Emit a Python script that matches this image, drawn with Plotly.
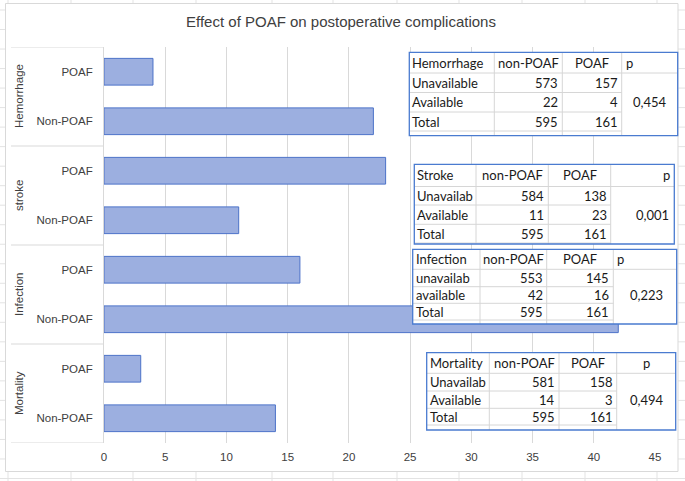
import plotly.graph_objects as go

# ---------------- data ----------------
groups = ["Hemorrhage", "stroke", "Infection", "Mortality"]
bar_labels = ["POAF", "Non-POAF"]
poaf_counts = [4, 23, 16, 3]
non_poaf_counts = [22, 11, 42, 14]
x_ticks = [0, 5, 10, 15, 20, 25, 30, 35, 40, 45]

table_titles = ["Hemorrhage", "Stroke", "Infection", "Mortality"]
col_headers = ["non-POAF", "POAF", "p"]
hem_rows = ["Unavailable", "Available", "Total"]
hem_non = [573, 22, 595]
hem_poaf = [157, 4, 161]
hem_p = "0,454"
stroke_rows = ["Unavailab", "Available", "Total"]
stroke_non = [584, 11, 595]
stroke_poaf = [138, 23, 161]
stroke_p = "0,001"
inf_rows = ["unavailab", "available", "Total"]
inf_non = [553, 42, 595]
inf_poaf = [145, 16, 161]
inf_p = "0,223"
mort_rows = ["Unavailab", "Available", "Total"]
mort_non = [581, 14, 595]
mort_poaf = [158, 3, 161]
mort_p = "0,494"

# ---------------- layout constants (pixels) ----------------
W, H = 685, 481
L, R, T, B = 104, 30, 47, 38
PW, PH = W - L - R, H - T - B


def fx(px):
    return (px - L) / PW


def fy(py):
    return (H - B - py) / PH


AX_FONT = dict(family="Liberation Sans, Arial, sans-serif", size=11.5, color="#404040")
TB_FONT = dict(family="Lato, Open Sans, sans-serif", size=13, color="#1a1a1a")
GRID = "#d9d9d9"
SHEET = "#e3e3e3"
BLUE = "#4a7bd0"

# ---------------- bars ----------------
ypos, xval, ytxt = [], [], []
for g in range(len(groups)):
    for j, lab in enumerate(bar_labels):
        ypos.append(2 * g + j)
        xval.append(poaf_counts[g] if j == 0 else non_poaf_counts[g])
        ytxt.append(lab)

fig = go.Figure()
fig.add_trace(go.Bar(
    x=xval, y=ypos, orientation="h",
    marker=dict(color="#9cafe0", line=dict(color="#4c72c8", width=1)),
    hoverinfo="skip",
))

shapes = []
annotations = []

# spreadsheet grid behind the chart
sheet_cols = [8, 71, 133, 196, 272, 333, 397, 459, 522, 585, 657]
for cx in sheet_cols:
    shapes.append(dict(type="line", xref="paper", yref="paper", layer="below",
                       x0=fx(cx), x1=fx(cx), y0=fy(0), y1=fy(H),
                       line=dict(color=SHEET, width=1)))
k = 0
while 10 + 19.52 * k < H:
    ry = 10 + 19.52 * k
    shapes.append(dict(type="line", xref="paper", yref="paper", layer="below",
                       x0=fx(0), x1=fx(W), y0=fy(ry), y1=fy(ry),
                       line=dict(color=SHEET, width=1)))
    k += 1

# chart area
shapes.append(dict(type="rect", xref="paper", yref="paper", layer="below",
                   x0=fx(5.5), x1=fx(678), y0=fy(471.5), y1=fy(3.5),
                   fillcolor="white", line=dict(color=GRID, width=1)))

# category group dividers
for b in range(len(groups) + 1):
    yb = 2 * b - 0.5
    shapes.append(dict(type="line", xref="paper", yref="y", layer="below",
                       x0=fx(11), x1=0, y0=yb, y1=yb,
                       line=dict(color=GRID, width=1)))

# group labels
for g, name in enumerate(groups):
    annotations.append(dict(text=name, xref="paper", yref="y", x=fx(18.5), y=2 * g + 0.5,
                            textangle=-90, showarrow=False, font=AX_FONT,
                            xanchor="center", yanchor="middle"))

# ---------------- tables ----------------
tables = [
    dict(title=table_titles[0], rows=hem_rows, non=hem_non, poaf=hem_poaf, p=hem_p,
         box=(409.3, 52.3, 677.7, 135.7), cols=(494.3, 562.3, 621.7),
         rb=(52.3, 73, 92.5, 112, 131), p_align="left", p_x=668),
    dict(title=table_titles[1], rows=stroke_rows, non=stroke_non, poaf=stroke_poaf, p=stroke_p,
         box=(414.3, 164.3, 674.3, 244), cols=(476, 548.3, 610.7),
         rb=(164.3, 186.5, 205, 224.3, 243), p_align="right", p_x=670),
    dict(title=table_titles[2], rows=inf_rows, non=inf_non, poaf=inf_poaf, p=inf_p,
         box=(412.7, 249.3, 676.7, 324), cols=(480, 546.7, 613.3),
         rb=(249.3, 269.3, 286.7, 303.3, 320), p_align="left", p_x=663.5),
    dict(title=table_titles[3], rows=mort_rows, non=mort_non, poaf=mort_poaf, p=mort_p,
         box=(426.7, 352.7, 675.7, 430), cols=(489.3, 559, 616.7),
         rb=(352.7, 373.3, 391, 408.3, 425), p_align="center", p_x=664.5),
]

CELL = "#d6d6d6"
for t in tables:
    x0, y0, x1, y1 = t["box"]
    c = t["cols"]
    rb = t["rb"]
    shapes.append(dict(type="rect", xref="paper", yref="paper", layer="above",
                       x0=fx(x0), x1=fx(x1), y0=fy(y1), y1=fy(y0),
                       fillcolor="white", line=dict(width=0)))
    for cx in c:
        shapes.append(dict(type="line", xref="paper", yref="paper", layer="above",
                           x0=fx(cx), x1=fx(cx), y0=fy(y1), y1=fy(y0),
                           line=dict(color=CELL, width=1)))
    for i, ry in enumerate(rb[1:]):
        xe = x1 if i == 0 else c[2]
        shapes.append(dict(type="line", xref="paper", yref="paper", layer="above",
                           x0=fx(x0), x1=fx(xe), y0=fy(ry), y1=fy(ry),
                           line=dict(color=CELL, width=1)))
    shapes.append(dict(type="rect", xref="paper", yref="paper", layer="above",
                       x0=fx(x0), x1=fx(x1), y0=fy(y1), y1=fy(y0),
                       line=dict(color=BLUE, width=1.3)))

    def txt(s, px, py, anchor):
        annotations.append(dict(text=str(s), xref="paper", yref="paper",
                                x=fx(px), y=fy(py), xanchor=anchor, yanchor="middle",
                                showarrow=False, font=TB_FONT, borderpad=0))

    hc = (rb[0] + rb[1]) / 2
    txt(t["title"], x0 + 2, hc, "left")
    txt(col_headers[0], (c[0] + c[1]) / 2, hc, "center")
    txt(col_headers[1], (c[1] + c[2]) / 2, hc, "center")
    if t["p_align"] == "left":
        txt(col_headers[2], c[2] + 3, hc, "left")
    elif t["p_align"] == "right":
        txt(col_headers[2], x1 - 3, hc, "right")
    else:
        txt(col_headers[2], (c[2] + x1) / 2, hc, "center")
    for r in range(3):
        rc = (rb[r + 1] + rb[r + 2]) / 2
        txt(t["rows"][r], x0 + 2, rc, "left")
        txt(t["non"][r], c[1] - 3, rc, "right")
        txt(t["poaf"][r], c[2] - 3, rc, "right")
    txt(t["p"], t["p_x"], (rb[2] + rb[3]) / 2, "right")

fig.update_layout(
    width=W, height=H,
    margin=dict(l=L, r=R, t=T, b=B, pad=0),
    paper_bgcolor="white",
    plot_bgcolor="rgba(0,0,0,0)",
    showlegend=False,
    bargap=0.46,
    title=dict(text="Effect of POAF on postoperative complications",
               x=341 / W, xanchor="center", y=1 - 21.5 / H, yanchor="middle",
               font=dict(family="Liberation Sans, Arial, sans-serif", size=15, color="#404040")),
    xaxis=dict(range=[0, 45], tickvals=x_ticks, ticktext=[str(v) for v in x_ticks],
               showgrid=True, gridcolor=GRID, gridwidth=1, zeroline=False,
               showline=False, ticks="", tickfont=AX_FONT, ticklabelstandoff=5,
               fixedrange=True),
    yaxis=dict(range=[7.5, -0.5], tickvals=ypos, ticktext=ytxt,
               showgrid=False, zeroline=False, showline=True, linecolor=GRID,
               linewidth=1, ticks="", tickfont=AX_FONT, ticklabelstandoff=8,
               fixedrange=True),
    shapes=shapes,
    annotations=annotations,
)

fig.write_html("out.html", config={"displayModeBar": False},
               post_script="document.body.style.margin='0';document.body.style.overflow='hidden';")
